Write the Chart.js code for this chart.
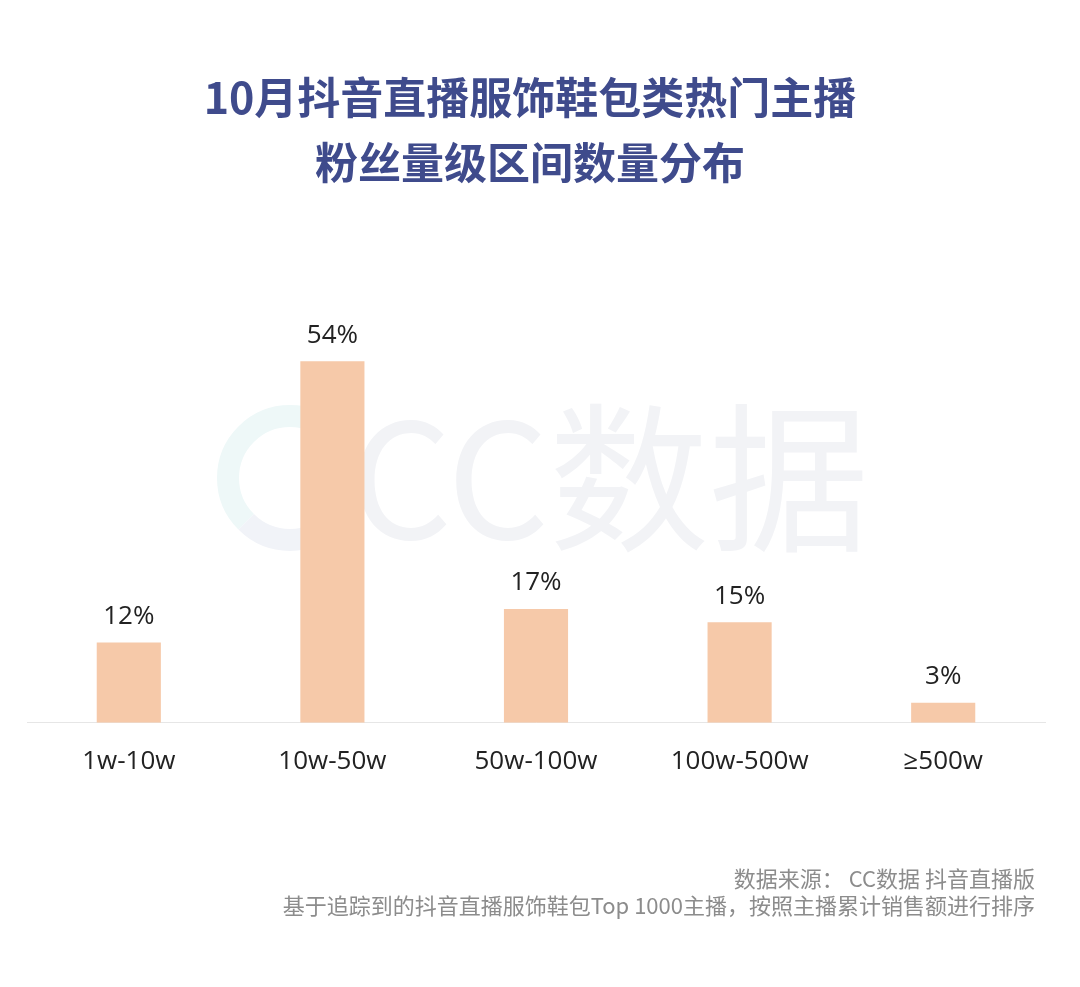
<!DOCTYPE html>
<html>
<head>
<meta charset="utf-8">
<script src="https://cdn.jsdelivr.net/npm/chart.js"></script>
<style>
  body { margin: 0; background: #fff; font-family: "Noto Sans CJK SC", sans-serif; }
  #wrap { position: relative; width: 1080px; height: 987px; }
  #title { position: absolute; left: 0; top: 63px; width: 1060px; text-align: center;
           color: #3f4b8c; font-weight: bold; font-size: 43px; line-height: 65px; }
  #note { position: absolute; right: 45px; top: 864px; text-align: right;
          color: #8c8c8c; font-size: 22px; line-height: 27px; }
  canvas { position: absolute; left: 0; top: 0; }
</style>
</head>
<body>
<div id="wrap">
  <canvas id="mycanvas" width="1080" height="987"></canvas>
  <div id="title">10月抖音直播服饰鞋包类热门主播<br>粉丝量级区间数量分布</div>
  <div id="note">数据来源： CC数据 抖音直播版<br>基于追踪到的抖音直播服饰鞋包Top 1000主播，按照主播累计销售额进行排序</div>
</div>
<script>
var categories = ["1w-10w", "10w-50w", "50w-100w", "100w-500w", "≥500w"];
var shares = [12, 54, 17, 15, 3];

// faint watermark behind the bars
var watermark = {
    id: "watermark",
    beforeDatasetsDraw: function (chart) {
        var c = chart.ctx;
        c.save();
        // logo arcs
        c.lineWidth = 22;
        c.strokeStyle = "#eef8f8";
        c.beginPath();
        c.arc(290, 478, 62, Math.PI * 0.75, Math.PI * 1.75);
        c.stroke();
        c.strokeStyle = "#f1f3f8";
        c.beginPath();
        c.arc(290, 478, 62, Math.PI * 1.75, Math.PI * 0.75);
        c.stroke();
        c.fillStyle = "#f2f3f6";
        c.font = "160px 'Noto Sans CJK SC'";
        c.textBaseline = "middle";
        c.fillText("CC数据", 350, 478);
        c.restore();
    }
};

var barLabels = {
    id: "barLabels",
    afterDatasetsDraw: function (chart) {
        var c = chart.ctx;
        var meta = chart.getDatasetMeta(0);
        c.save();
        c.fillStyle = "#222";
        c.font = "26px 'Open Sans'";
        c.textAlign = "center";
        c.textBaseline = "bottom";
        meta.data.forEach(function (bar, i) {
            c.fillText(shares[i] + "%", bar.x, bar.y - 13);
        });
        c.restore();
    }
};

var ctx = document.getElementById("mycanvas");
var barGraph = new Chart(ctx, {
    type: "bar",
    data: {
        labels: categories,
        datasets: [{
            data: shares,
            backgroundColor: "#f6c9a9",
            categoryPercentage: 1,
            barPercentage: 0.315
        }]
    },
    options: {
        responsive: false,
        animation: false,
        layout: { padding: { left: 27, right: 35, top: 321, bottom: 195 } },
        plugins: { legend: { display: false }, tooltip: { enabled: false } },
        scales: {
            x: {
                grid: { display: false },
                border: { color: "#e6e6e6" },
                ticks: { color: "#222", font: { size: 26, family: "Open Sans" }, padding: 15 }
            },
            y: {
                display: false,
                min: 0,
                max: 60
            }
        }
    },
    plugins: [watermark, barLabels]
});
</script>
</body>
</html>
